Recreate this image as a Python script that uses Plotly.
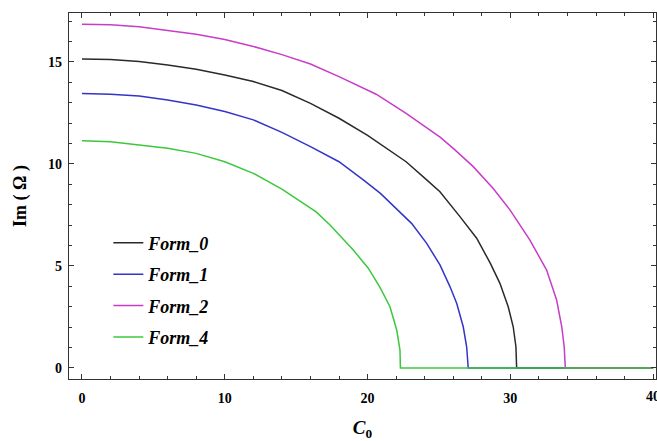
import plotly.graph_objects as go

# ---- data ----
form0_x = [0, 2, 4, 6, 8, 10, 12, 14, 16, 18, 20, 22.7, 24.14, 25.07, 26.47, 27.64, 28.6, 29.27, 29.85, 30.2, 30.39, 30.44, 40]
form0_y = [15.15, 15.12, 15.02, 14.85, 14.64, 14.36, 14.04, 13.6, 12.97, 12.24, 11.4, 10.11, 9.22, 8.64, 7.42, 6.36, 5.13, 4.15, 3.0, 2.02, 1.04, 0, 0]

form1_x = [0, 2, 4, 6, 8, 10, 12, 14, 16, 18, 19.7, 20.9, 23.08, 24.14, 25.07, 25.77, 26.24, 26.7, 26.94, 27.05, 40]
form1_y = [13.45, 13.42, 13.33, 13.14, 12.89, 12.57, 12.16, 11.55, 10.85, 10.11, 9.22, 8.56, 7.09, 6.11, 5.05, 3.99, 3.17, 2.02, 1.04, 0, 0]

form2_x = [0, 2, 4, 6, 8, 10, 12, 14, 16, 18, 20.6, 22.7, 25.1, 26.12, 27.4, 28.8, 29.97, 31.37, 32.54, 33.24, 33.6, 33.77, 33.85, 40]
form2_y = [16.85, 16.82, 16.73, 16.56, 16.36, 16.1, 15.76, 15.36, 14.9, 14.28, 13.42, 12.48, 11.3, 10.69, 9.87, 8.8, 7.75, 6.27, 4.8, 3.33, 2.02, 1.04, 0, 0]

form4_x = [0, 2, 4, 6, 8, 10, 12, 14, 16.4, 17.37, 19.0, 20.05, 20.87, 21.57, 22.04, 22.27, 22.3, 40]
form4_y = [11.14, 11.09, 10.93, 10.77, 10.52, 10.11, 9.54, 8.77, 7.65, 7.01, 5.78, 4.89, 3.95, 3.0, 1.86, 0.88, 0, 0]

names = ["Form_0", "Form_1", "Form_2", "Form_4"]
colors = ["#2a2a2a", "#3434c8", "#c83cc8", "#3cc83c"]
x_ticks = [0, 10, 20, 30, 40]
y_ticks = [0, 5, 10, 15]
xs = [form0_x, form1_x, form2_x, form4_x]
ys = [form0_y, form1_y, form2_y, form4_y]

fig = go.Figure()
for n, c, x, y in zip(names, colors, xs, ys):
    fig.add_trace(go.Scatter(
        x=x, y=y, mode="lines", name="<b><i>" + n + "</i></b>",
        legendgroup=n,
        line=dict(color=c, width=1.5)))

serif = "Liberation Serif"
axcol = "#333333"
tfont = dict(family=serif, size=14, weight="bold", color="black")

# the last x tick label overflows the page edge (cut off as in the reference)
fig.add_annotation(x=x_ticks[-1], xref="x", y=0, yref="paper", yanchor="top",
                   yshift=-8, text=str(x_ticks[-1]), showarrow=False, font=tfont)

fig.update_layout(
    width=657, height=441,
    margin=dict(l=69, r=1, t=13, b=62),
    paper_bgcolor="white", plot_bgcolor="white",
    font=dict(family=serif, color="black"),
    showlegend=True,
    legend=dict(
        x=0.067, y=0.422, xanchor="left", yanchor="top",
        font=dict(family=serif, size=18, color="black"),
        bgcolor="rgba(0,0,0,0)", tracegroupgap=5,
    ),
    xaxis=dict(
        range=[-0.91, 40.2], showgrid=False, zeroline=False,
        showline=True, linecolor=axcol, linewidth=1.3, mirror="ticks",
        ticks="inside", ticklen=5, tickwidth=1.2, tickcolor=axcol,
        tickvals=x_ticks,
        minor=dict(dtick=2, ticks="inside", ticklen=3, tickwidth=1, tickcolor=axcol),
        tickfont=tfont,
        ticklabelstandoff=6,
        title=dict(text="<i>C</i><sub>0</sub>", font=dict(family=serif, size=19, weight="bold"), standoff=17),
    ),
    yaxis=dict(
        range=[-0.54, 17.4], showgrid=False, zeroline=False,
        showline=True, linecolor=axcol, linewidth=1.3, mirror="ticks",
        ticks="inside", ticklen=5, tickwidth=1.2, tickcolor=axcol,
        tickvals=y_ticks,
        minor=dict(dtick=1, ticks="inside", ticklen=3, tickwidth=1, tickcolor=axcol),
        tickfont=tfont,
        ticklabelstandoff=3,
        title=dict(text="Im ( Ω )", font=dict(family=serif, size=18, weight="bold"), standoff=16),
    ),
)

fig.write_html("out.html")
